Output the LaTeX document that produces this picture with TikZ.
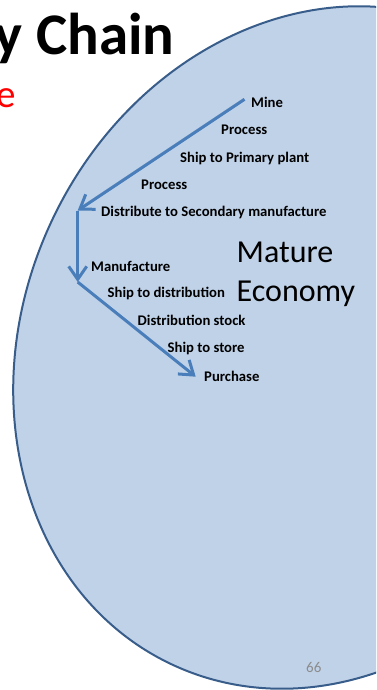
\documentclass[tikz,border=0pt]{standalone}
\usepackage{fontspec}
\setmainfont{Carlito}
\usetikzlibrary{arrows.meta}
\definecolor{ellfill}{RGB}{192,210,232}
\definecolor{elldraw}{RGB}{56,93,138}
\definecolor{arrowblue}{RGB}{74,126,187}
\definecolor{pagegray}{RGB}{140,140,140}
\begin{document}
\begin{tikzpicture}[x=1pt,y=1pt,
  lbl/.style={anchor=base west,inner sep=0pt,font=\fontsize{14.7}{17}\selectfont\bfseries},
  flow/.style={draw=arrowblue,line width=3pt,-{Straight Barb[length=13pt,width=18pt]}},
  big/.style={anchor=base west,inner sep=0pt,font=\fontsize{32}{38}\selectfont}]
\useasboundingbox (0,0) rectangle (376,-690);
\clip (0,0) rectangle (376,-690);
\coordinate (c) at (320.4,-347.5);
\draw[fill=ellfill,draw=elldraw,line width=2pt,rotate around={-25:(c)}] (c) ellipse [x radius=297pt,y radius=350pt];
\node[anchor=base east,inner sep=0pt,font=\fontsize{59}{64}\selectfont\bfseries] (title) at (174.5,-55) {y Chain};
\node[anchor=base east,inner sep=0pt,text=red,font=\fontsize{39}{44}\selectfont] (sub) at (16,-108) {e};
\node[lbl] (mine) at (251,-108) {Mine};
\node[lbl] (proc1) at (221,-134.5) {Process};
\node[lbl] (ship1) at (180,-162) {Ship to Primary plant};
\node[lbl] (proc2) at (141,-189.5) {Process};
\node[lbl] (dist) at (101,-216) {Distribute to Secondary manufacture};
\node[lbl] (manu) at (91,-271) {Manufacture};
\node[lbl] (ship2) at (107.5,-297.5) {Ship to distribution};
\node[lbl] (stock) at (137.5,-325.5) {Distribution stock};
\node[lbl] (ship3) at (167.5,-352.5) {Ship to store};
\node[lbl] (purch) at (204,-381) {Purchase};
\node[big] (mature) at (236.5,-262.7) {Mature};
\node[big] (economy) at (236.5,-301.7) {Economy};
\node[anchor=base west,inner sep=0pt,text=pagegray,font=\fontsize{15}{18}\selectfont] (page) at (306,-672) {66};
\coordinate (start) at (244.5,-99.3);
\coordinate (bendA) at (77.7,-210.5);
\coordinate (bendB) at (77.7,-282);
\coordinate (finish) at (195.7,-376.7);
\draw[flow] (start) -- (bendA);
\draw[flow] (bendA) -- (bendB);
\draw[flow] (bendB) -- (finish);
\end{tikzpicture}
\end{document}
